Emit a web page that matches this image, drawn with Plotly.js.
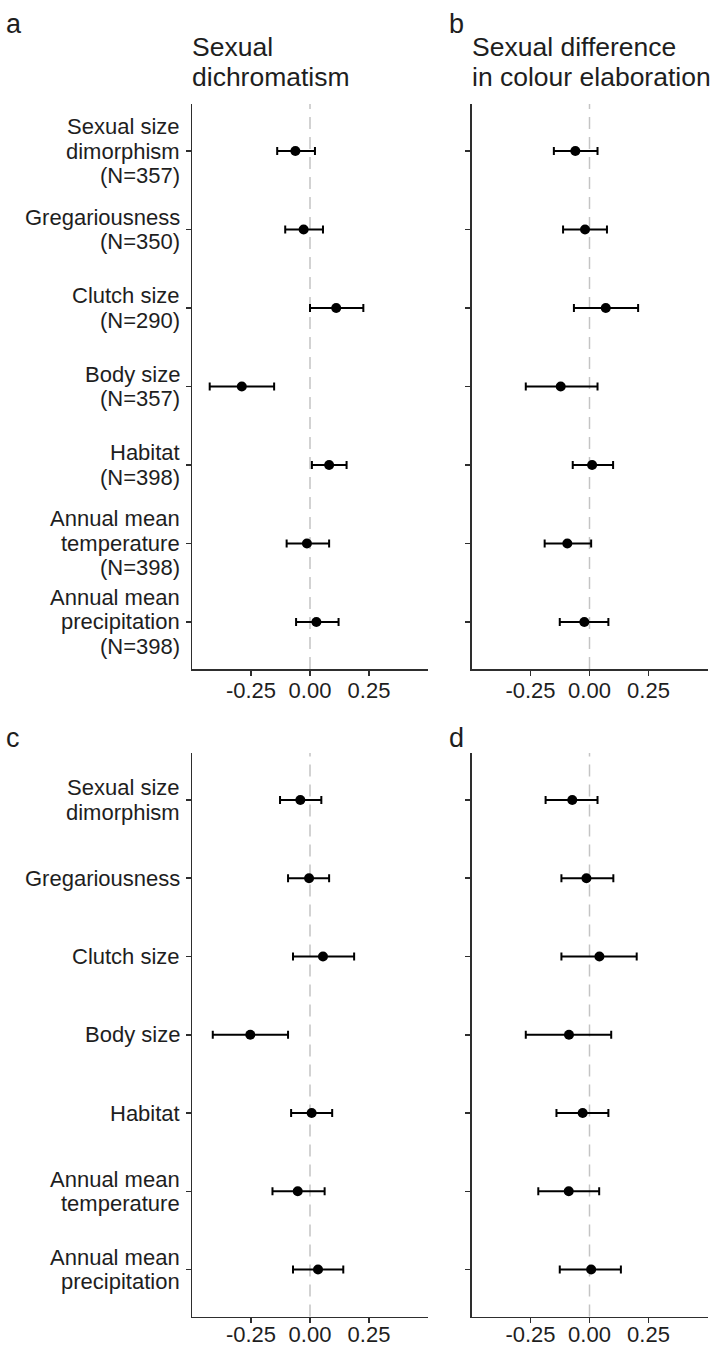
<!DOCTYPE html>
<html><head><meta charset="utf-8">
<script src="https://cdn.plot.ly/plotly-3.0.1.min.js"></script>
<style>html,body{margin:0;padding:0;background:#fff}#chart{width:720px;height:1348px}</style>
</head><body><div id="chart"></div>
<script>
// ---- data ----
const labelsTop = ["Sexual size<br>dimorphism<br>(N=357)", "Gregariousness<br>(N=350)", "Clutch size<br>(N=290)", "Body size<br>(N=357)", "Habitat<br>(N=398)", "Annual mean<br>temperature<br>(N=398)", "Annual mean<br>precipitation<br>(N=398)"];
const labelsBottom = ["Sexual size<br>dimorphism", "Gregariousness", "Clutch size", "Body size", "Habitat", "Annual mean<br>temperature", "Annual mean<br>precipitation"];

const estA = [-0.062, -0.027, 0.111, -0.289, 0.081, -0.013, 0.027];
const loA  = [-0.139, -0.105, 0.000, -0.425, 0.008, -0.099, -0.059];
const hiA  = [0.021, 0.055, 0.226, -0.152, 0.155, 0.081, 0.121];

const estB = [-0.060, -0.019, 0.069, -0.122, 0.011, -0.094, -0.022];
const loB  = [-0.151, -0.112, -0.066, -0.270, -0.071, -0.190, -0.126];
const hiB  = [0.034, 0.074, 0.206, 0.034, 0.100, 0.007, 0.080];

const estC = [-0.041, -0.004, 0.055, -0.253, 0.007, -0.052, 0.034];
const loC  = [-0.127, -0.093, -0.072, -0.412, -0.080, -0.159, -0.072];
const hiC  = [0.048, 0.081, 0.187, -0.093, 0.094, 0.062, 0.141];

const estD = [-0.073, -0.013, 0.042, -0.087, -0.029, -0.088, 0.007];
const loD  = [-0.186, -0.119, -0.119, -0.270, -0.140, -0.217, -0.126];
const hiD  = [0.034, 0.101, 0.200, 0.092, 0.080, 0.041, 0.133];

const xTickVals = [-0.25, 0, 0.25];
const xTickText = ["-0.25", "0.00", "0.25"];
const panelLetters = ["a", "b", "c", "d"];
const titleA = ["Sexual", "dichromatism"];
const titleB = ["Sexual difference", "in colour elaboration"];

// ---- build ----
const FONT = "Liberation Sans, Arial, Helvetica, sans-serif";
const TXT = "#1e1e1e";
const AX = "#2e2e2e";

function trace(est, lo, hi, labels, xa, ya) {
  return {
    type: "scatter", mode: "markers",
    x: est, y: labels, xaxis: xa, yaxis: ya,
    marker: {color: "#000", size: 10},
    error_x: {
      type: "data", symmetric: false,
      array: est.map((v, i) => hi[i] - v),
      arrayminus: est.map((v, i) => v - lo[i]),
      color: "#000", thickness: 2, width: 4
    },
    hoverinfo: "skip", showlegend: false
  };
}

const data = [
  trace(estA, loA, hiA, labelsTop, "x", "y"),
  trace(estB, loB, hiB, labelsTop, "x2", "y2"),
  trace(estC, loC, hiC, labelsBottom, "x3", "y3"),
  trace(estD, loD, hiD, labelsBottom, "x4", "y4")
];

const W = 720, H = 1348;
const xLeft = [192 / W, 428 / W];
const xRight = [471.5 / W, 707.5 / W];
const yTop = [1 - 669 / H, 1 - 104 / H];
const yBot = [1 - 1316.5 / H, 1 - 753 / H];

function xaxis(dom, anchor, standoff) {
  return {
    domain: dom, anchor: anchor, range: [-0.5, 0.5],
    tickmode: "array", tickvals: xTickVals, ticktext: xTickText,
    showline: true, linecolor: AX, linewidth: 1.5,
    ticks: "outside", ticklen: 5, tickwidth: 1.5, tickcolor: AX,
    ticklabelstandoff: standoff,
    showgrid: false, zeroline: false,
    tickfont: {family: FONT, size: 22, color: TXT}
  };
}
function yaxis(dom, anchor, labels) {
  return {
    domain: dom, anchor: anchor, type: "category",
    categoryorder: "array", categoryarray: labels,
    range: [labels.length - 0.4, -0.6],
    showline: true, linecolor: AX, linewidth: 1.5,
    ticks: "outside", ticklen: 5, tickwidth: 1.5, tickcolor: AX,
    showgrid: false, zeroline: false, showticklabels: false
  };
}

const shapes = ["x", "x2", "x3", "x4"].map((xa, i) => ({
  type: "line", xref: xa, yref: ["y", "y2", "y3", "y4"][i] + " domain",
  x0: 0, x1: 0, y0: 0, y1: 1, layer: "below",
  line: {color: "#c4c4c4", width: 1.5, dash: "12px,8px"}
}));

function ann(text, xpx, ypx, size) {
  return {
    text: text, xref: "paper", yref: "paper",
    x: xpx / W, y: 1 - ypx / H, xanchor: "left", yanchor: "middle",
    showarrow: false, font: {family: FONT, size: size, color: TXT}
  };
}

// category labels of the left panels, one text per line, tighter line spacing
const LINE = 24.5;
function catLabels(labels, yref) {
  const out = [];
  labels.forEach(lab => {
    const lines = lab.split("<br>");
    const n = lines.length;
    lines.forEach((ln, i) => {
      out.push({
        text: ln, xref: "paper", yref: yref, x: 182 / W, y: lab,
        xanchor: "right", yanchor: "middle", yshift: ((n - 1) / 2 - i) * LINE,
        showarrow: false, font: {family: FONT, size: 22, color: TXT}
      });
    });
  });
  return out;
}

const fsTitle = 26.5, fsLetter = 27;
const annotations = [
  ann(panelLetters[0], 4, 24, fsLetter),
  ann(panelLetters[1], 447, 24, fsLetter),
  ann(panelLetters[2], 4, 738, fsLetter),
  ann(panelLetters[3], 447, 738, fsLetter),
  ann(titleA[0], 190, 47, fsTitle),
  ann(titleA[1], 190, 77, fsTitle),
  ann(titleB[0], 470, 47, fsTitle),
  ann(titleB[1], 470, 77, fsTitle)
].concat(catLabels(labelsTop, "y"), catLabels(labelsBottom, "y3"));

const layout = {
  width: W, height: H,
  margin: {l: 0, r: 0, t: 0, b: 0},
  paper_bgcolor: "#fff", plot_bgcolor: "#fff",
  showlegend: false,
  xaxis: xaxis(xLeft, "y", -4), yaxis: yaxis(yTop, "x", labelsTop),
  xaxis2: xaxis(xRight, "y2", -4), yaxis2: yaxis(yTop, "x2", labelsTop),
  xaxis3: xaxis(xLeft, "y3", -7), yaxis3: yaxis(yBot, "x3", labelsBottom),
  xaxis4: xaxis(xRight, "y4", -7), yaxis4: yaxis(yBot, "x4", labelsBottom),
  shapes: shapes, annotations: annotations
};

Plotly.newPlot("chart", data, layout, {staticPlot: true, displayModeBar: false});
</script></body></html>
